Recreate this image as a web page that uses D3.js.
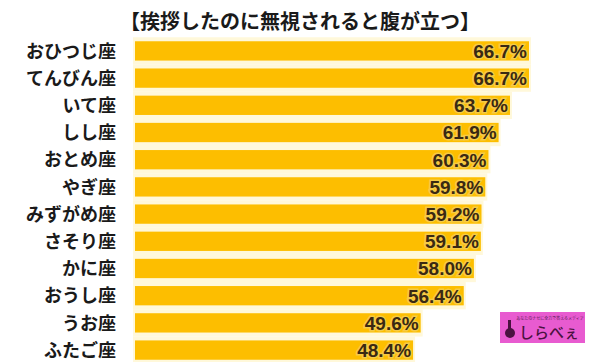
<!DOCTYPE html>
<html>
<head>
<meta charset="utf-8">
<script src="https://cdn.jsdelivr.net/npm/d3@7"></script>
<style>
  body { margin: 0; background: #fff; }
  svg { display: block; }
</style>
</head>
<body>
<svg id="chart"></svg>
<script>
const title = "【挨拶したのに無視されると腹が立つ】";
const signs = ["おひつじ座", "てんびん座", "いて座", "しし座", "おとめ座", "やぎ座",
               "みずがめ座", "さそり座", "かに座", "おうし座", "うお座", "ふたご座"];
const values = [66.7, 66.7, 63.7, 61.9, 60.3, 59.8, 59.2, 59.1, 58.0, 56.4, 49.6, 48.4];

const W = 600, H = 362;
const svg = d3.select("#chart").attr("width", W).attr("height", H);

// bars start at 135, scale roughly fitted to the picture
const x = d3.scaleLinear().domain([4.5, 66.7]).range([135, 529]);
const y = d3.scaleBand().domain(signs).range([38, 363]).paddingInner(0.29).paddingOuter(0.12);

svg.append("text")
  .attr("x", 300).attr("y", 29)
  .attr("text-anchor", "middle")
  .attr("font-family", "'Noto Sans CJK JP', sans-serif")
  .attr("font-weight", 700)
  .attr("font-size", 20)
  .attr("fill", "#1a1a1a")
  .text(title);

const rows = svg.selectAll("g.row").data(signs).enter().append("g").attr("class", "row");

// pale halo round each bar
rows.append("rect")
  .attr("x", x(4.5) - 2)
  .attr("y", d => y(d) - 4)
  .attr("width", (d, i) => x(values[i]) - x(4.5) + 4)
  .attr("height", y.bandwidth() + 8)
  .attr("fill", "#FFF8DA");

rows.append("rect")
  .attr("x", x(4.5))
  .attr("y", d => y(d))
  .attr("width", (d, i) => x(values[i]) - x(4.5))
  .attr("height", y.bandwidth())
  .attr("fill", "#FDBE00");

rows.append("text")
  .attr("x", 116)
  .attr("y", d => y(d) + y.bandwidth() / 2)
  .attr("dy", "0.37em")
  .attr("text-anchor", "end")
  .attr("font-family", "'Noto Sans CJK JP', sans-serif")
  .attr("font-weight", 700)
  .attr("font-size", 18)
  .attr("fill", "#1a1a1a")
  .text(d => d);

rows.append("text")
  .attr("x", (d, i) => x(values[i]) - 2)
  .attr("y", d => y(d) + y.bandwidth() / 2)
  .attr("dy", "0.36em")
  .attr("text-anchor", "end")
  .attr("font-family", "'Liberation Sans', Arial, sans-serif")
  .attr("font-weight", 700)
  .attr("font-size", 19)
  .attr("fill", "#3a2912")
  .attr("stroke", "#F6CB45")
  .attr("stroke-width", 3)
  .attr("paint-order", "stroke")
  .text((d, i) => values[i].toFixed(1) + "%");

// logo
const logo = svg.append("g").attr("transform", "translate(500,312)");
logo.append("rect").attr("width", 85).attr("height", 31).attr("fill", "#E85BD0");
logo.append("text").attr("x", 50).attr("y", 8)
  .attr("text-anchor", "middle")
  .attr("font-family", "'Noto Sans CJK JP', sans-serif")
  .attr("font-size", 4).attr("fill", "#5a1d55")
  .text("あなたのナゼに全力で答えるメディア");
logo.append("circle").attr("cx", 10).attr("cy", 21).attr("r", 5).attr("fill", "#4a1240");
logo.append("rect").attr("x", 8).attr("y", 8).attr("width", 3).attr("height", 9).attr("fill", "#4a1240");
logo.append("text").attr("x", 19).attr("y", 26)
  .attr("font-family", "'Noto Sans CJK JP', sans-serif")
  .attr("font-weight", 500)
  .attr("font-size", 15).attr("fill", "#4a1240")
  .text("しらべぇ");
</script>
</body>
</html>
